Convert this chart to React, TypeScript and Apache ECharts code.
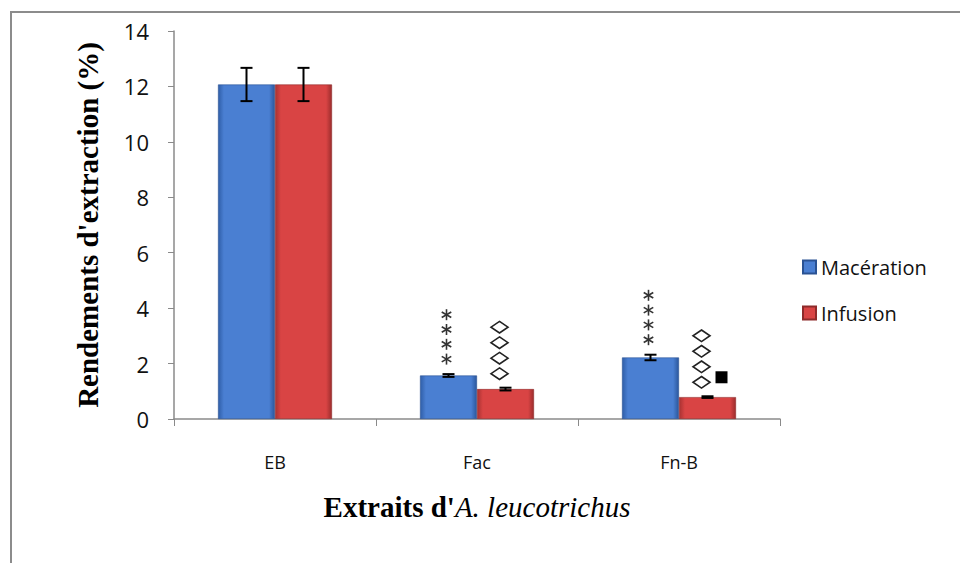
import React, { useEffect, useRef } from "react";
import * as echarts from "echarts";

const categories = ["EB", "Fac", "Fn-B"];
const seriesNames = ["Macération", "Infusion"];
const maceration = [12.07, 1.57, 2.22];
const infusion = [12.07, 1.08, 0.79];
const macerationErr = [0.6, 0.05, 0.1];
const infusionErr = [0.6, 0.05, 0.03];
// significance marks above each bar (stacked column; "■" is drawn beside the column)
const macerationMarks = ["", "****", "****"];
const infusionMarks = ["", "◇◇◇◇", "◇◇◇◇■"];

const BAR_W = 57;

function hGrad(edge: string, mid: string, edge2: string) {
  return new echarts.graphic.LinearGradient(0, 0, 1, 0, [
    { offset: 0, color: edge },
    { offset: 0.1, color: mid },
    { offset: 0.9, color: mid },
    { offset: 1, color: edge2 },
  ]);
}

export default function App() {
  const ref = useRef<HTMLDivElement>(null);
  useEffect(() => {
    if (!ref.current) return;
    const chart = echarts.init(ref.current, null, { renderer: "svg" });

    const errData = (vals: number[], errs: number[], side: number) =>
      vals.map((v, i) => [i, v - errs[i], v + errs[i], side]);

    const errSeries = (vals: number[], errs: number[], side: number) => ({
      type: "custom",
      silent: true,
      clip: false,
      z: 5,
      data: errData(vals, errs, side),
      encode: { x: 0, y: [1, 2] },
      renderItem: (params: any, api: any) => {
        const c = api.value(0);
        const lo = api.coord([c, api.value(1)]);
        const hi = api.coord([c, api.value(2)]);
        const x = lo[0] + (api.value(3) * BAR_W) / 2;
        const cap = 6;
        const st = { stroke: "#000", lineWidth: 2 };
        return {
          type: "group",
          children: [
            { type: "line", shape: { x1: x, y1: hi[1], x2: x, y2: lo[1] }, style: st },
            { type: "line", shape: { x1: x - cap, y1: hi[1], x2: x + cap, y2: hi[1] }, style: st },
            { type: "line", shape: { x1: x - cap, y1: lo[1], x2: x + cap, y2: lo[1] }, style: st },
          ],
        };
      },
    });

    const markData: any[] = [];
    categories.forEach((_, i) => {
      markData.push([i, maceration[i] + macerationErr[i], -1, macerationMarks[i]]);
      markData.push([i, infusion[i] + infusionErr[i], 1, infusionMarks[i]]);
    });

    const markSeries = {
      type: "custom",
      silent: true,
      clip: false,
      z: 6,
      data: markData,
      encode: { x: 0, y: 1 },
      renderItem: (params: any, api: any) => {
        const d = markData[params.dataIndex];
        const marks: string = d[3] || "";
        const p = api.coord([d[0], d[1]]);
        const cx = p[0] + (d[2] * BAR_W) / 2;
        const children: any[] = [];
        let k = 0;
        for (const ch of marks) {
          if (ch === "*") {
            const x = cx - 2;
            const y = p[1] - 15 - k * 14.8;
            const r = 5.5;
            const st = { stroke: "#333", lineWidth: 1.6 };
            for (const a of [90, 30, 150]) {
              const rad = (a * Math.PI) / 180;
              children.push({
                type: "line",
                shape: {
                  x1: x - r * Math.cos(rad),
                  y1: y - r * Math.sin(rad),
                  x2: x + r * Math.cos(rad),
                  y2: y + r * Math.sin(rad),
                },
                style: st,
              });
            }
            k++;
          } else if (ch === "◇") {
            const x = cx - 6;
            const y = p[1] - 14 - k * 15.5;
            children.push({
              type: "polygon",
              shape: { points: [[x, y - 5.8], [x + 8.5, y], [x, y + 5.8], [x - 8.5, y]] },
              style: { fill: "#fff", stroke: "#222", lineWidth: 1.6 },
            });
            k++;
          } else if (ch === "■") {
            const x = cx + 14;
            const y = p[1] - 19;
            children.push({
              type: "rect",
              shape: { x: x - 6, y: y - 6, width: 12, height: 12 },
              style: { fill: "#000" },
            });
          }
        }
        return { type: "group", children };
      },
    };

    const blue = hGrad("#2f5ea8", "#4a7fd2", "#2b579c");
    const red = hGrad("#a83232", "#d94444", "#9c2d2d");

    chart.setOption({
      animation: false,
      backgroundColor: "#fff",
      graphic: [
        {
          type: "rect",
          shape: { x: 11, y: 12, width: 1000, height: 600 },
          style: { fill: "none", stroke: "#8c8c8c", lineWidth: 2 },
          silent: true,
        },
      ],
      legend: {
        orient: "vertical",
        left: 797,
        top: 252,
        itemWidth: 13,
        itemHeight: 13,
        itemGap: 26,
        icon: "rect",
        data: seriesNames,
        textStyle: { fontFamily: "Open Sans", fontSize: 20, color: "#111" },
      },
      grid: { left: 174, right: 180, top: 31, bottom: 144 },
      xAxis: {
        type: "category",
        data: categories,
        name: "{a|Extraits d'}{b|A. leucotrichus}",
        nameLocation: "middle",
        nameGap: 73,
        nameTextStyle: {
          rich: {
            a: { fontFamily: "Liberation Serif", fontWeight: "bold", fontSize: 29, color: "#000" },
            b: { fontFamily: "Liberation Serif", fontStyle: "italic", fontSize: 29, color: "#000" },
          },
        },
        axisLine: { lineStyle: { color: "#8a8a8a", width: 1.5 } },
        axisTick: { show: true, alignWithLabel: false, length: 7, lineStyle: { color: "#8a8a8a" } },
        axisLabel: { margin: 34, fontFamily: "Open Sans", fontSize: 18, color: "#111" },
      },
      yAxis: {
        type: "value",
        min: 0,
        max: 14,
        interval: 2,
        name: "Rendements d'extraction (%)",
        nameLocation: "middle",
        nameRotate: 90,
        nameGap: 72,
        nameTextStyle: { fontFamily: "Liberation Serif", fontWeight: "bold", fontSize: 29, color: "#000" },
        axisLine: { show: true, lineStyle: { color: "#8a8a8a", width: 1.5 } },
        axisTick: { show: true, length: 6, lineStyle: { color: "#8a8a8a" } },
        splitLine: { show: false },
        axisLabel: { margin: 25, fontFamily: "Open Sans", fontSize: 22, color: "#111" },
      },
      series: [
        {
          name: seriesNames[0],
          type: "bar",
          data: maceration,
          barWidth: BAR_W,
          barGap: "0%",
          itemStyle: { color: blue, borderColor: "#2a5293", borderWidth: 0.6 },
        },
        {
          name: seriesNames[1],
          type: "bar",
          data: infusion,
          barWidth: BAR_W,
          barGap: "0%",
          itemStyle: { color: red, borderColor: "#8e2a2a", borderWidth: 0.6 },
        },
        errSeries(maceration, macerationErr, -1),
        errSeries(infusion, infusionErr, 1),
        markSeries,
      ],
    });
    return () => chart.dispose();
  }, []);
  return (
    <div
      ref={ref}
      style={{ position: "fixed", left: 0, top: 0, width: 960, height: 563 }}
    />
  );
}
